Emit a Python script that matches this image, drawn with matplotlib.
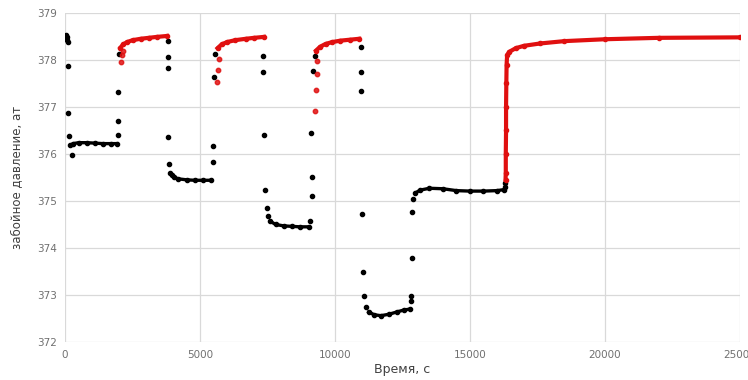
import matplotlib
matplotlib.use("Agg")
import matplotlib.pyplot as plt

# black isolated points (pressure jumps between regimes)
jump_t = [40, 60, 80, 100, 90, 110, 150, 250,
          1960, 1960, 1960, 1980,
          3800, 3800, 3800, 3820, 3860, 3900,
          5480, 5480, 5520, 5560,
          7330, 7330, 7370, 7400, 7480, 7520,
          9080, 9150, 9150, 9120, 9200, 9250,
          10950, 10950, 10950, 11000, 11050, 11080, 11150,
          12820, 12820, 12850, 12870, 12900,
          16300, 16300]
jump_p = [378.52, 378.48, 378.42, 378.38, 377.87, 376.87, 376.38, 375.98,
          376.40, 376.70, 377.32, 378.13,
          378.40, 378.06, 377.83, 376.36, 375.79, 375.60,
          375.83, 376.17, 377.64, 378.13,
          378.09, 377.74, 376.40, 375.23, 374.85, 374.68,
          374.57, 375.10, 375.50, 376.45, 377.77, 378.09,
          378.28, 377.74, 377.34, 374.72, 373.49, 372.98, 372.74,
          372.87, 372.98, 373.79, 374.77, 375.04,
          375.30, 375.38]

# black plateaus (drawdown periods)
plat1_t = [200, 300, 500, 800, 1100, 1400, 1700, 1930]
plat1_p = [376.18, 376.22, 376.24, 376.24, 376.23, 376.22, 376.22, 376.22]
plat2_t = [3950, 4050, 4200, 4500, 4800, 5100, 5420]
plat2_p = [375.55, 375.50, 375.47, 375.45, 375.44, 375.44, 375.44]
plat3_t = [7600, 7800, 8100, 8400, 8700, 9050]
plat3_p = [374.57, 374.50, 374.47, 374.46, 374.45, 374.45]
plat4_t = [11250, 11450, 11700, 12000, 12300, 12550, 12780]
plat4_p = [372.64, 372.58, 372.56, 372.59, 372.64, 372.68, 372.70]
plat5_t = [12980, 13150, 13500, 14000, 14500, 15000, 15500, 16000, 16250]
plat5_p = [375.17, 375.23, 375.27, 375.26, 375.22, 375.21, 375.21, 375.22, 375.24]

# red isolated points (start of build-up)
red_t = [2060, 2100, 2130, 5630, 5670, 5700, 9250, 9290, 9350, 9350]
red_p = [377.96, 378.10, 378.20, 377.53, 377.79, 378.02, 376.91, 377.36, 377.70, 377.98]

# red build-up curves
rec1_t = [2050, 2150, 2300, 2500, 2800, 3100, 3400, 3780]
rec1_p = [378.26, 378.33, 378.38, 378.42, 378.45, 378.47, 378.49, 378.51]
rec2_t = [5650, 5800, 6000, 6300, 6700, 7000, 7370]
rec2_p = [378.25, 378.33, 378.38, 378.42, 378.45, 378.47, 378.49]
rec3_t = [9300, 9450, 9650, 9900, 10200, 10550, 10900]
rec3_p = [378.20, 378.28, 378.34, 378.38, 378.41, 378.43, 378.45]
rec4_t = [16320, 16330, 16330, 16340, 16340, 16350, 16360, 16380, 16450,
          16700, 17000, 17600, 18500, 20000, 22000, 25000]
rec4_p = [375.45, 375.60, 376.00, 376.50, 377.00, 377.50, 377.90, 378.10, 378.17,
          378.25, 378.30, 378.35, 378.40, 378.44, 378.47, 378.48]

RED = "#e01010"

fig = plt.figure(figsize=(7.48, 3.80), dpi=100)
ax = fig.add_axes([0.087, 0.10, 0.902, 0.866])

for t, p in [(plat1_t, plat1_p), (plat2_t, plat2_p), (plat3_t, plat3_p),
             (plat4_t, plat4_p), (plat5_t, plat5_p)]:
    ax.plot(t, p, color="black", lw=2.4, marker="o", ms=3, zorder=3)
ax.plot(jump_t, jump_p, "o", color="black", ms=3, zorder=3)

for t, p in [(rec1_t, rec1_p), (rec2_t, rec2_p), (rec3_t, rec3_p), (rec4_t, rec4_p)]:
    ax.plot(t, p, color=RED, lw=3.0, marker="o", ms=3, zorder=4)
ax.plot(red_t, red_p, "o", color=RED, ms=3.2, alpha=0.85, zorder=4)

ax.set_xlim(0, 25000)
ax.set_ylim(372, 379)
ax.set_xticks([0, 5000, 10000, 15000, 20000, 25000])
ax.set_yticks(range(372, 380))
ax.grid(True, color="#d9d9d9", lw=0.9)
ax.set_axisbelow(True)
for s in ax.spines.values():
    s.set_visible(False)
ax.tick_params(length=0, labelsize=7.5, labelcolor="#707070", pad=6)
ax.set_xlabel("Время, с", fontsize=9, color="#404040", labelpad=2)
ax.set_ylabel("забойное давление, ат", fontsize=8.5, color="#404040", labelpad=10)

fig.savefig("out.png", dpi=100)
